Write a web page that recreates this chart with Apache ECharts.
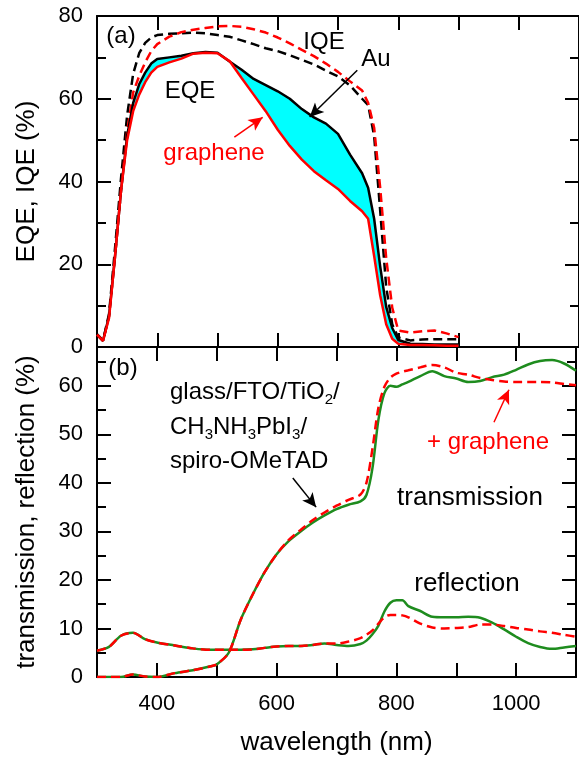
<!DOCTYPE html>
<html>
<head>
<meta charset="utf-8">
<script src="https://cdn.jsdelivr.net/npm/echarts@6/dist/echarts.min.js"></script>
<style>
  html, body { margin: 0; padding: 0; background: #fff; }
  #chart { width: 579px; height: 760px; }
</style>
</head>
<body>
<div id="chart"></div>
<script>
// ---- panel (a): EQE / IQE, all four curves share this wavelength grid
const wlTop = [300, 310, 320, 330, 340, 350, 360, 370, 380, 390, 400, 420, 440, 460, 480, 500, 520, 540, 560, 580,
  600, 620, 640, 660, 680, 700, 720, 740, 750, 760, 770, 780, 790, 800, 820, 840, 860, 880, 900];
const iqeAu = [3.1, 1.6, 8, 24, 41, 56, 66, 71, 73.5, 74.8, 75.4, 75.7, 75.8, 76, 75.8, 75.4, 75, 74.1, 73.2, 72.2,
  71.5, 70.5, 69.4, 68.3, 66.8, 65.4, 63.2, 60, 58.5, 51, 33, 14.5, 5.5, 2.3, 1.6, 1.8, 1.9, 1.9, 1.9];
const iqeGr = [3, 1.5, 7.5, 22, 38, 52, 61.5, 65.5, 68.8, 71.5, 73.2, 75, 76.1, 76.7, 77.1, 77.5, 77.6, 77.4, 76.8, 76,
  74.8, 73.4, 71.8, 70.3, 68.5, 66.5, 64.2, 62, 59, 53, 38.5, 21.5, 9.5, 4, 3.5, 3.8, 4, 3.3, 2.4];
const eqeAu = [3, 1.5, 7.5, 22, 38, 51, 59, 63.5, 66.3, 68.5, 69.6, 70, 70.4, 71, 71.3, 71.1, 69, 67, 64.8, 63.3,
  61.8, 60, 57.5, 55.5, 54, 51.5, 46.5, 42, 38.5, 31, 19.5, 9.7, 4.6, 1.7, 0.8, 0.7, 0.6, 0.6, 0.6];
const eqeGr = [3, 1.5, 7, 22, 38, 50, 57, 61, 64, 66.3, 67.7, 68.8, 69.7, 70.9, 71.1, 71, 69.1, 65, 61, 57,
  52.5, 48.6, 45.3, 42.5, 40.3, 38.2, 35.3, 32.8, 31, 22, 12.5, 5.5, 2, 0.8, 0.5, 0.5, 0.4, 0.3, 0.3];

// ---- panel (b): transmission / reflection
const wlBot = [300, 320, 340, 360, 380, 400, 430, 460, 490, 500, 520, 540, 560, 580, 600, 620, 640, 660, 680, 700,
  720, 740, 750, 760, 770, 780, 790, 800, 810, 820, 840, 860, 880, 900, 920, 940, 960, 980, 1000, 1020,
  1040, 1060, 1080, 1100];
const transBase = [0, 0, 0, 0.5, 0.1, 0, 0.8, 1.4, 2.2, 2.6, 5, 11.8, 17, 21.6, 25.3, 28, 30, 31.8, 33.3, 34.6,
  35.5, 36.2, 37.5, 43, 53, 58.5, 60, 59.8, 60.3, 60.8, 62, 63, 62, 61.5, 60.8, 61, 61.8, 62.3, 63.3, 64.4,
  65.1, 65.3, 64.6, 63.1];
const transGr = [0, 0, 0, 0.5, 0.1, 0, 0.8, 1.4, 2.2, 2.6, 5, 11.8, 17, 21.6, 25.3, 28.2, 30.3, 32.3, 33.9, 35.3,
  36.5, 37.6, 40, 47, 55.5, 59.8, 61.7, 62.5, 62.9, 63.2, 63.8, 64.3, 63.8, 62.7, 62.3, 61.6, 61.2, 60.9, 60.8, 60.8,
  60.8, 60.7, 60.4, 60.1];
const reflBase = [5.4, 6.2, 8.5, 9.1, 7.8, 7.1, 6.5, 5.9, 5.6, 5.6, 5.6, 5.6, 5.7, 6, 6.3, 6.4, 6.4, 6.6, 6.9, 6.6,
  6.4, 6.8, 7.5, 8.8, 10.6, 13.5, 15.3, 15.8, 15.8, 14.6, 13.6, 12.4, 12.3, 12.3, 12.4, 12.2, 11.2, 9.8, 8.3, 7,
  6.2, 5.8, 6.1, 6.4];
const reflGr = [5.4, 6.2, 8.5, 9.1, 7.8, 7.1, 6.5, 5.9, 5.6, 5.6, 5.6, 5.6, 5.7, 6, 6.3, 6.4, 6.4, 6.6, 6.9, 6.9,
  7.3, 8, 8.7, 9.6, 11, 12.3, 12.8, 12.8, 12.7, 12.3, 11, 10.2, 10, 10.1, 10.3, 10.8, 10.8, 10.5, 10.1, 9.8,
  9.4, 9.1, 8.7, 8.3];

const FONT = '"Liberation Sans", Arial, sans-serif';
const RED = '#ff0000', GREEN = '#1e8c1e';

const pair = (xs, ys) => xs.map((x, i) => [x, ys[i]]);

const tickStyle = { color: '#000', width: 2 };
const axisLine = { show: true, onZero: false, lineStyle: { color: '#000', width: 2 } };

const xAxes = [];
[0, 1].forEach(g => ['bottom', 'top'].forEach(pos => {
  const main = g === 1 && pos === 'bottom';
  xAxes.push({
    type: 'value', gridIndex: g, position: pos, min: 300, max: 1100, interval: 100,
    axisLine, splitLine: { show: false },
    axisTick: { inside: true, length: 14, lineStyle: tickStyle },
    axisLabel: { show: main, margin: 16, fontSize: 22, color: '#000', fontFamily: FONT,
      formatter: v => (v % 200 === 0 ? String(v) : '') },
    name: main ? 'wavelength (nm)' : '', nameLocation: 'middle', nameGap: 53,
    nameTextStyle: { fontSize: 26, color: '#000', fontFamily: FONT }
  });
}));

function yAx(g, pos, max, interval, name) {
  return {
    type: 'value', gridIndex: g, position: pos, min: 0, max, interval,
    axisLine, splitLine: { show: false },
    axisTick: { inside: true, length: 14, lineStyle: tickStyle },
    axisLabel: { show: pos === 'left', margin: 14, fontSize: 22, color: '#000', fontFamily: FONT,
      formatter: v => (v % (g === 0 ? 20 : 10) === 0 ? String(v) : '') },
    name: pos === 'left' ? name : '', nameLocation: 'middle', nameGap: 57,
    nameTextStyle: { fontSize: 26, color: '#000', fontFamily: FONT }
  };
}
const yAxes = [
  yAx(0, 'left', 80, 20, 'EQE, IQE (%)'),
  yAx(0, 'right', 80, 20, ''),
  yAx(1, 'left', 68, 10, 'transmission, reflection (%)'),
  yAx(1, 'right', 68, 10, '')
];
yAxes[0].minorTick = yAxes[1].minorTick = { show: true, splitNumber: 2, length: 9, lineStyle: tickStyle };
// short ticks at 5, 15, ... 65 for panel (b)
['left', 'right'].forEach(pos => yAxes.push({
  type: 'value', gridIndex: 1, position: pos, min: 0, max: 68, interval: 10,
  axisLine: { show: false }, splitLine: { show: false }, axisLabel: { show: false },
  axisTick: { inside: true, length: 9, lineStyle: tickStyle, customValues: [5, 15, 25, 35, 45, 55, 65] }
}));

function line(name, xs, ys, color, dashed, xi, yi, extra) {
  return Object.assign({
    name, type: 'line', xAxisIndex: xi, yAxisIndex: yi, data: pair(xs, ys),
    symbol: 'none', smooth: false,
    lineStyle: { color, width: 2.5, type: dashed ? [9, 5] : 'solid' }
  }, extra || {});
}
function arrow(x1, y1, x2, y2, color) {
  return {
    silent: true, symbol: ['none', 'arrow'], symbolSize: [10, 14], label: { show: false },
    lineStyle: { color, width: 1.5, type: 'solid' },
    data: [[{ coord: [x1, y1] }, { coord: [x2, y2] }]]
  };
}

const series = [
  // cyan band between the two EQE curves
  {
    type: 'custom', xAxisIndex: 0, yAxisIndex: 0, silent: true, z: 1,
    data: [[300, 0]],
    renderItem: (params, api) => {
      const pts = wlTop.map((w, i) => api.coord([w, eqeAu[i]]));
      for (let i = wlTop.length - 1; i >= 0; i--) pts.push(api.coord([wlTop[i], eqeGr[i]]));
      return { type: 'polygon', shape: { points: pts }, style: { fill: '#00ffff' } };
    }
  },
  line('IQE Au', wlTop, iqeAu, '#000', true, 0, 0),
  line('IQE graphene', wlTop, iqeGr, RED, true, 0, 0),
  line('EQE Au', wlTop, eqeAu, '#000', false, 0, 0, { markLine: arrow(732, 66.9, 653, 55.6, '#000') }),
  line('EQE graphene', wlTop, eqeGr, RED, false, 0, 0, { markLine: arrow(528, 50.7, 575, 55.5, RED) }),

  line('reflection', wlBot, reflBase, GREEN, false, 2, 2, { smooth: 0.3 }),
  line('reflection + graphene', wlBot, reflGr, RED, true, 2, 2, { smooth: 0.3 }),
  line('transmission', wlBot, transBase, GREEN, false, 2, 2,
    { smooth: 0.3, markLine: arrow(627, 41, 666, 35, '#000') }),
  line('transmission + graphene', wlBot, transGr, RED, true, 2, 2,
    { smooth: 0.3, markLine: arrow(963, 52.5, 988, 59.2, RED) })
];

function txt(x, y, text, extra) {
  return { type: 'text', x, y, z: 100, style: Object.assign({
    text, fill: '#000', fontSize: 24, fontFamily: FONT, align: 'center', verticalAlign: 'middle'
  }, extra || {}) };
}
const sub = { s: { fontSize: 15, fontFamily: FONT, verticalAlign: 'bottom', lineHeight: 15 } };
const graphic = [
  txt(121, 36, '(a)'),
  txt(324, 42, 'IQE'),
  txt(376, 59, 'Au'),
  txt(190, 91, 'EQE'),
  txt(214, 153, 'graphene', { fill: RED }),
  txt(123, 368, '(b)'),
  txt(170, 392, 'glass/FTO/TiO{s|2}/', { align: 'left', lineHeight: 30, rich: sub }),
  txt(170, 427, 'CH{s|3}NH{s|3}PbI{s|3}/', { align: 'left', lineHeight: 30, rich: sub }),
  txt(170, 461, 'spiro-OMeTAD', { align: 'left' }),
  txt(488, 442, '+ graphene', { fill: RED }),
  txt(470, 498, 'transmission', { fontSize: 26 }),
  txt(467, 584, 'reflection', { fontSize: 26 })
];

const chart = echarts.init(document.getElementById('chart'));
chart.setOption({
  animation: false,
  backgroundColor: '#fff',
  grid: [
    { left: 97, top: 16, width: 483, height: 331 },
    { left: 97, top: 347, width: 483, height: 330 }
  ],
  xAxis: xAxes,
  yAxis: yAxes,
  series,
  graphic
});
</script>
</body>
</html>
